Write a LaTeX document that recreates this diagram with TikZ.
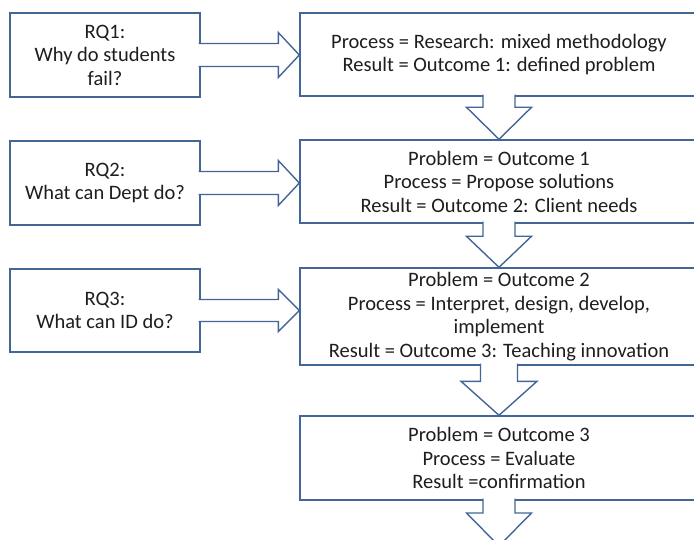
\documentclass[tikz,border=0pt]{standalone}
\usepackage{fontspec}
\setmainfont{Carlito}
\usetikzlibrary{calc}
\definecolor{boxline}{RGB}{68,102,150}
\definecolor{boxtext}{RGB}{30,30,30}

\begin{document}
\begin{tikzpicture}[x=1pt,y=-1pt,
    box/.style={draw=boxline, line width=1.4pt, fill=white, text=boxtext, align=center, inner sep=0pt, font=\fontsize{20.5}{23.5}\selectfont},
    rqbox/.style={box, minimum width=190pt, minimum height=84pt},
    stagebox/.style={box, minimum width=398pt},
    blockarrow/.style={draw=boxline, line width=1.4pt, fill=white, line join=miter}]
    % Frame
    \useasboundingbox (0,0) rectangle (694,540);
    \clip (0,0) rectangle (694,540);

    % Research question boxes
    \node[rqbox] (rq1) at (105,55) {RQ1:\\Why do students\\fail?};
    \node[rqbox] (rq2) at (105,183) {RQ2:\\What can Dept do?};
    \node[rqbox, minimum height=83pt] (rq3) at (105,310.5) {RQ3:\\What can ID do?};

    % Stage boxes
    \node[stagebox, minimum height=83pt] (p1) at (499,54.5) {Process = Research: mixed methodology\\Result = Outcome 1: defined problem};
    \node[stagebox, minimum height=83pt] (p2) at (499,181.5) {Problem = Outcome 1\\Process = Propose solutions\\Result = Outcome 2: Client needs};
    \node[stagebox, minimum height=97pt] (p3) at (499,316.5) {Problem = Outcome 2\\Process = Interpret, design, develop,\\implement\\Result = Outcome 3: Teaching innovation};
    \node[stagebox, minimum height=84pt] (p4) at (499,458) {Problem = Outcome 3\\Process = Evaluate\\Result =confirmation};
    \coordinate (next) at (499,546);

    % Block arrows -- questions into stages
    \path[blockarrow] ($(rq1.east)+(-2,-11.5)$) -- ($(rq1.east -| p1.west)+(-21,-11.5)$) -- ++(0,-11)
        -- (rq1.east -| p1.west) -- ++(-21,22.5) -- ++(0,-11) -- ($(rq1.east)+(-2,11.5)$);
    \path[blockarrow] ($(rq2.east)+(-2,-11.5)$) -- ($(rq2.east -| p2.west)+(-21,-11.5)$) -- ++(0,-11)
        -- (rq2.east -| p2.west) -- ++(-21,22.5) -- ++(0,-11) -- ($(rq2.east)+(-2,11.5)$);
    \path[blockarrow] ($(rq3.east)+(-2,-11)$) -- ($(rq3.east -| p3.west)+(-21,-11)$) -- ++(0,-10)
        -- (rq3.east -| p3.west) -- ++(-21,21) -- ++(0,-10) -- ($(rq3.east)+(-2,11)$);

    % Block arrows -- stage to stage
    \path[blockarrow] ($(p1.south)+(-16,-2)$) -- ($(p2.north)+(-16,-32)$) -- ++(-16.5,0)
        -- (p2.north) -- ++(32.5,-32) -- ++(-16.5,0) -- ($(p1.south)+(16,-2)$);
    \path[blockarrow] ($(p2.south)+(-16,-2)$) -- ($(p3.north)+(-16,-31)$) -- ++(-16.5,0)
        -- (p3.north) -- ++(32.5,-31) -- ++(-16.5,0) -- ($(p2.south)+(16,-2)$);
    \path[blockarrow] ($(p3.south)+(-18.5,-2)$) -- ($(p4.north)+(-18.5,-34)$) -- ++(-19.5,0)
        -- (p4.north) -- ++(38,-34) -- ++(-19.5,0) -- ($(p3.south)+(18.5,-2)$);
    \path[blockarrow] ($(p4.south)+(-16,-2)$) -- ($(next)+(-16,-33)$) -- ++(-16.5,0)
        -- (next) -- ++(32.5,-33) -- ++(-16.5,0) -- ($(p4.south)+(16,-2)$);
\end{tikzpicture}
\end{document}
